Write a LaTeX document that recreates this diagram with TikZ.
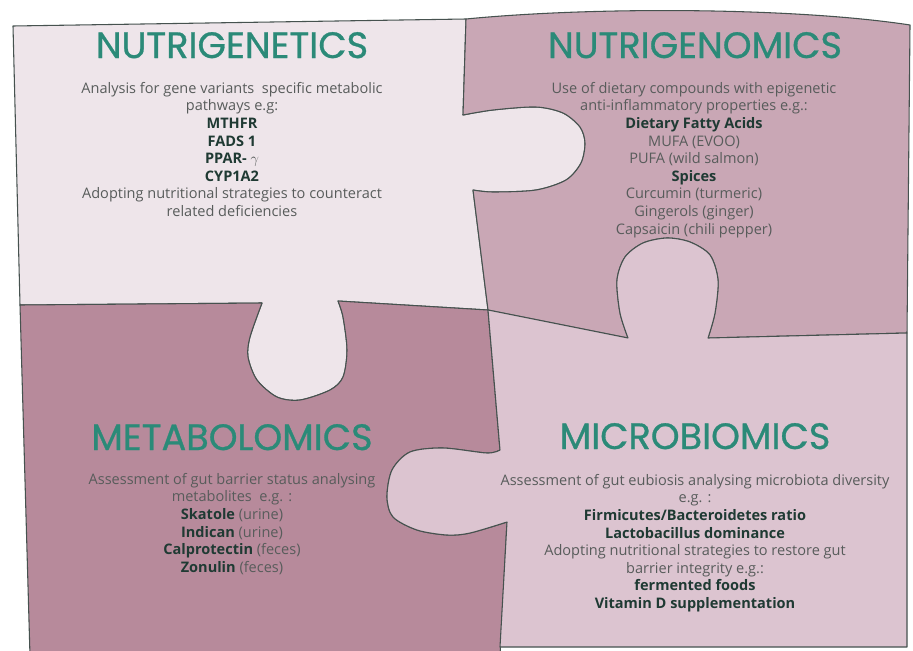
\documentclass[tikz,border=0pt]{standalone}
\usepackage{fontspec}
\setmainfont{Open Sans}
\newfontfamily\headfont[FakeBold=0.8]{Poppins}
\usetikzlibrary{positioning}
\definecolor{pale}{HTML}{EEE5EA}
\definecolor{mauve}{HTML}{C9A7B5}
\definecolor{plum}{HTML}{B78A9B}
\definecolor{blush}{HTML}{DCC4D0}
\definecolor{rim}{HTML}{46524F}
\definecolor{headteal}{HTML}{2B8A78}
\definecolor{bodygray}{HTML}{585C5B}
\definecolor{termgreen}{HTML}{1F3A33}
\newcommand{\bterm}[1]{{\bfseries\color{termgreen}#1}}

\begin{document}
\begin{tikzpicture}[x=0.75pt,y=-0.75pt,
  piece/.style={draw=rim,line width=0.8pt,line join=round},
  head/.style={font=\headfont\fontsize{27.5}{27.5}\selectfont,text=headteal,anchor=base,inner sep=0pt},
  body/.style={font=\fontsize{10.9}{13.2}\selectfont,text=bodygray,align=center,anchor=north,inner sep=0pt}]
\clip (0,0) rectangle (913,650);
\fill[white] (0,0) rectangle (913,650);
% top left
\draw[piece,fill=pale] (13,26) -- (466,19)
  -- plot[smooth] coordinates {(463,115) (493,110) (536,107) (563,113) (580,127) (585,143) (581,163) (566,180) (536,190) (493,192) (473,190)}
  -- (488,310)
  -- plot[smooth] coordinates {(338,301) (343,317) (347,350) (343,377) (330,390) (300,400) (277,397) (257,380) (248,357) (250,337) (262,303)}
  -- (20,305) -- cycle;
% top right
\draw[piece,fill=mauve] (466,19) .. controls (600,6) and (800,8) .. (910,25) -- (907,333)
  -- plot[smooth] coordinates {(708,338) (715,313) (718,280) (710,255) (690,242) (667,238) (643,243) (625,257) (617,280) (620,313) (628,338)}
  -- (488,310)
  -- plot[smooth] coordinates {(473,190) (493,192) (536,190) (566,180) (581,163) (585,143) (580,127) (563,113) (536,107) (493,110) (463,115)}
  -- cycle;
% bottom left
\draw[piece,fill=plum] (20,305)
  -- plot[smooth] coordinates {(262,303) (250,337) (248,357) (257,380) (277,397) (300,400) (330,390) (343,377) (347,350) (343,317) (338,301)}
  -- (488,310)
  -- plot[smooth] coordinates {(500,450) (487,453) (443,448) (410,452) (392,470) (387,497) (393,517) (417,530) (447,535) (470,533) (507,522)}
  -- (500,656) -- (30,656) -- cycle;
% bottom right
\draw[piece,fill=blush] (488,310)
  -- plot[smooth] coordinates {(628,338) (620,313) (617,280) (625,257) (643,243) (667,238) (690,242) (710,255) (718,280) (715,313) (708,338)}
  -- (907,333) -- (907,647) -- (500,647)
  -- plot[smooth] coordinates {(507,522) (470,533) (447,535) (417,530) (393,517) (387,497) (392,470) (410,452) (443,448) (487,453) (500,450)}
  -- cycle;

\node[head] (genetics) at (232,58) {NUTRIGENETICS};
\node[body] (geneticsText) at (232,82) {Analysis for gene variants\ \ specific metabolic\\
  pathways e.g:\\ \bterm{MTHFR}\\ \bterm{FADS 1}\\ \bterm{PPAR-} $\gamma$\\ \bterm{CYP1A2}\\
  Adopting nutritional strategies to counteract\\ related deficiencies};

\node[head] (genomics) at (695,58) {NUTRIGENOMICS};
\node[body] (genomicsText) at (694,82) {Use of dietary compounds with epigenetic\\
  anti-inflammatory properties e.g.:\\ \bterm{Dietary Fatty Acids}\\ MUFA (EVOO)\\
  PUFA (wild salmon)\\ \bterm{Spices}\\ Curcumin (turmeric)\\ Gingerols (ginger)\\
  Capsaicin (chili pepper)};

\node[head] (metabolomics) at (232,450) {METABOLOMICS};
\node[body] (metabolomicsText) at (232,473) {Assessment of gut barrier status analysing\\
  metabolites\ \ e.g. :\\ \bterm{Skatole} (urine)\\ \bterm{Indican} (urine)\\
  \bterm{Calprotectin} (feces)\\ \bterm{Zonulin} (feces)};

\node[head] (microbiomics) at (695,449) {MICROBIOMICS};
\node[body] (microbiomicsText) at (695,474) {Assessment of gut eubiosis analysing microbiota diversity\\
  e.g. :\\ \bterm{Firmicutes/Bacteroidetes ratio}\\ \bterm{Lactobacillus dominance}\\
  Adopting nutritional strategies to restore gut\\ barrier integrity e.g.:\\
  \bterm{fermented foods}\\ \bterm{Vitamin D supplementation}};
\end{tikzpicture}
\end{document}
